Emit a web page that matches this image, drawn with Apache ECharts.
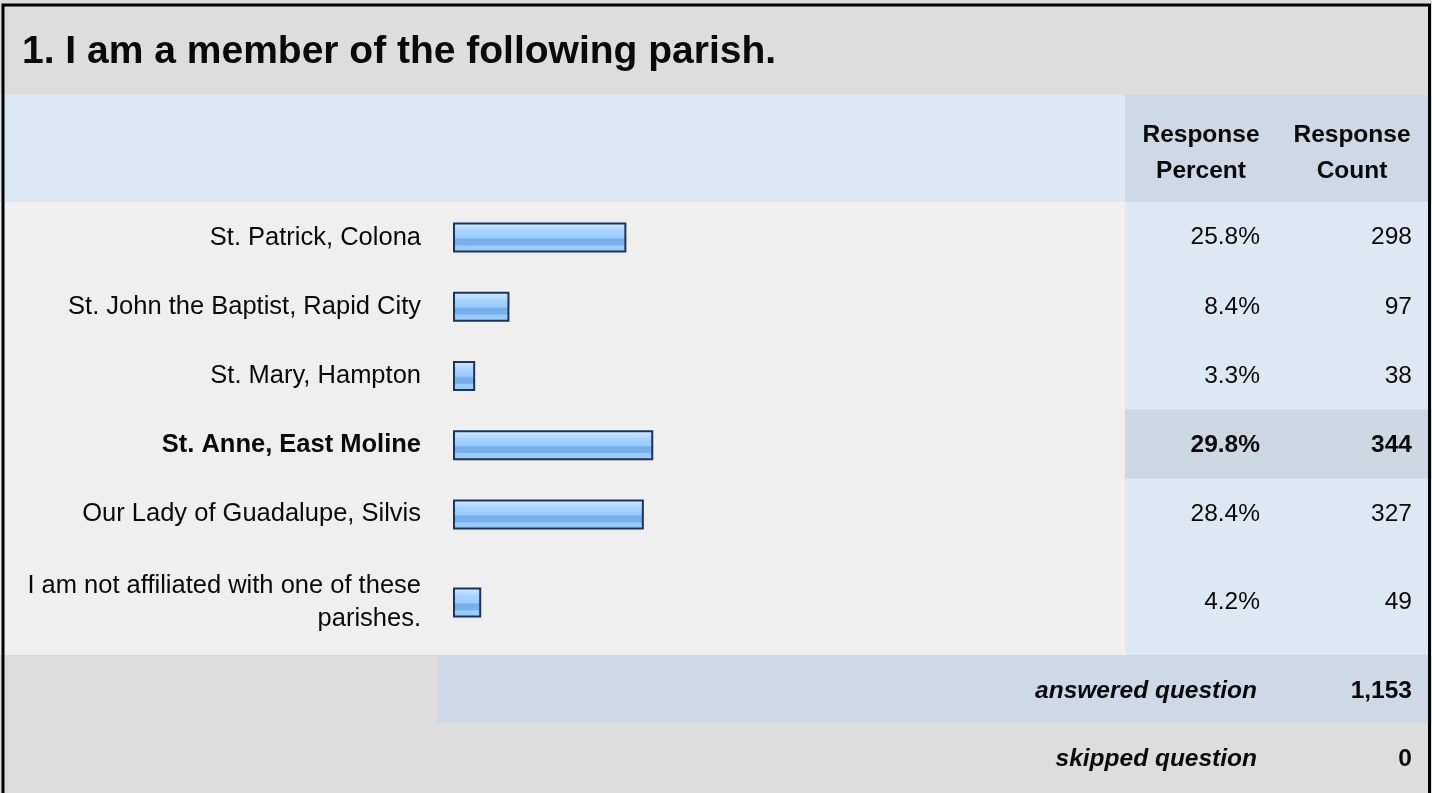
<!DOCTYPE html>
<html>
<head>
<meta charset="utf-8">
<script src="https://cdn.jsdelivr.net/npm/echarts@6/dist/echarts.min.js"></script>
<style>
html,body{margin:0;padding:0;background:#fff;}
#chart{width:1432px;height:793px;}
</style>
</head>
<body>
<div id="chart"></div>
<script>
// ---- data ----
const title = "1. I am a member of the following parish.";
const categories = [
  "St. Patrick, Colona",
  "St. John the Baptist, Rapid City",
  "St. Mary, Hampton",
  "St. Anne, East Moline",
  "Our Lady of Guadalupe, Silvis",
  "I am not affiliated with one of these parishes."
];
const percents = [25.8, 8.4, 3.3, 29.8, 28.4, 4.2];
const counts = [298, 97, 38, 344, 327, 49];
const highlightIndex = 3;
const columnHeaders = ["Response\nPercent", "Response\nCount"];
const summaryLabels = ["answered question", "skipped question"];
const summaryValues = ["1,153", "0"];

// ---- layout ----
const FONT = "'Liberation Sans', Arial, Helvetica, sans-serif";
const W = 1432, H = 793;
const FS = 24.5;
const LFS = 25.5;
const TEXT = '#0a0a0a';
const rowsTop = 202, rowH = 69.2, lastTop = 548, lastH = 107;
const dataBottom = 655, ansBottom = 723;
const colX = 1125;
const percentRight = 1260, countRight = 1412;
const barLeft = 453, barW = 672;
const labelRight = 421, labelMaxW = 410;

// simple word wrap without trailing spaces
const measureCtx = document.createElement('canvas').getContext('2d');
function wrap(text, bold) {
  measureCtx.font = (bold ? 'bold ' : '') + LFS + 'px ' + FONT;
  const words = text.split(' ');
  const lines = [];
  let cur = '';
  words.forEach(w => {
    const t = cur ? cur + ' ' + w : w;
    if (cur && measureCtx.measureText(t).width > labelMaxW) { lines.push(cur); cur = w; }
    else cur = t;
  });
  if (cur) lines.push(cur);
  return lines.join('\n');
}

const chart = echarts.init(document.getElementById('chart'), null, {renderer: 'canvas'});

const barGrad = new echarts.graphic.LinearGradient(0, 0, 0, 1, [
  {offset: 0, color: '#d9edff'},
  {offset: 0.14, color: '#c2e0fe'},
  {offset: 0.3, color: '#a6d2fd'},
  {offset: 0.5, color: '#99ccff'},
  {offset: 0.56, color: '#78afeb'},
  {offset: 0.74, color: '#78afeb'},
  {offset: 0.78, color: '#99ccff'},
  {offset: 1, color: '#99ccff'}
]);

const topCats = categories.slice(0, 5);
const lastCats = categories.slice(5);

function leftAxis(gridIndex, data, offsetIdx) {
  return {
    type: 'category', gridIndex: gridIndex, data: data, inverse: true,
    axisLine: {show: false}, axisTick: {show: false}, splitLine: {show: false},
    axisLabel: {
      margin: barLeft - labelRight, fontSize: LFS, fontFamily: FONT, color: TEXT,
      lineHeight: 33, align: 'right',
      formatter: function (v, i) {
        const hi = (i + offsetIdx) === highlightIndex;
        const s = wrap(v, hi);
        return hi ? '{b|' + s + '}' : s;
      },
      rich: {b: {fontWeight: 'bold', fontSize: LFS, fontFamily: FONT, color: TEXT, lineHeight: 33}}
    }
  };
}
function rightAxis(gridIndex, data, offsetIdx, margin, fmt) {
  return {
    type: 'category', gridIndex: gridIndex, data: data, inverse: true, position: 'right',
    axisLine: {show: false}, axisTick: {show: false}, splitLine: {show: false},
    axisLabel: {
      margin: margin, align: 'right', fontSize: FS, fontFamily: FONT, color: TEXT,
      formatter: function (v, i) {
        const s = fmt(i + offsetIdx);
        return (i + offsetIdx) === highlightIndex ? '{b|' + s + '}' : s;
      },
      rich: {b: {fontWeight: 'bold', fontSize: FS, fontFamily: FONT, color: TEXT}}
    }
  };
}
const pctFmt = i => percents[i].toFixed(1) + '%';
const cntFmt = i => String(counts[i]);
const gridRight = barLeft + barW;

const bg = [
  {type: 'rect', shape: {x: 0, y: 0, width: W, height: 95}, style: {fill: '#dddddd'}},
  {type: 'rect', shape: {x: 0, y: 95, width: colX, height: rowsTop - 95}, style: {fill: '#dce8f5'}},
  {type: 'rect', shape: {x: colX, y: 95, width: W - colX, height: rowsTop - 95}, style: {fill: '#cdd9e6'}},
  {type: 'rect', shape: {x: 0, y: rowsTop, width: colX, height: dataBottom - rowsTop}, style: {fill: '#efefef'}},
  {type: 'rect', shape: {x: colX, y: rowsTop, width: W - colX, height: dataBottom - rowsTop}, style: {fill: '#dde8f5'}},
  {type: 'rect', shape: {x: colX, y: rowsTop + rowH * highlightIndex, width: W - colX, height: rowH}, style: {fill: '#cdd8e5'}},
  {type: 'rect', shape: {x: 0, y: dataBottom, width: 437, height: ansBottom - dataBottom}, style: {fill: '#dddddd'}},
  {type: 'rect', shape: {x: 437, y: dataBottom, width: W - 437, height: ansBottom - dataBottom}, style: {fill: '#cdd9e6'}},
  {type: 'rect', shape: {x: 0, y: ansBottom, width: W, height: H - ansBottom}, style: {fill: '#dddddd'}}
].map(e => Object.assign(e, {z: -100, silent: true}));

const texts = [
  {type: 'text', x: 22, y: 52, style: {text: title, font: 'bold 39px ' + FONT, fill: TEXT, textVerticalAlign: 'middle'}},
  {type: 'text', x: 1201, y: 153, style: {text: columnHeaders[0], font: 'bold ' + FS + 'px ' + FONT, fill: TEXT, textAlign: 'center', textVerticalAlign: 'middle', lineHeight: 36}},
  {type: 'text', x: 1352, y: 153, style: {text: columnHeaders[1], font: 'bold ' + FS + 'px ' + FONT, fill: TEXT, textAlign: 'center', textVerticalAlign: 'middle', lineHeight: 36}},
  {type: 'text', x: 1257, y: 691, style: {text: summaryLabels[0], font: 'italic bold ' + FS + 'px ' + FONT, fill: TEXT, textAlign: 'right', textVerticalAlign: 'middle'}},
  {type: 'text', x: countRight, y: 691, style: {text: summaryValues[0], font: 'bold ' + FS + 'px ' + FONT, fill: TEXT, textAlign: 'right', textVerticalAlign: 'middle'}},
  {type: 'text', x: 1257, y: 759, style: {text: summaryLabels[1], font: 'italic bold ' + FS + 'px ' + FONT, fill: TEXT, textAlign: 'right', textVerticalAlign: 'middle'}},
  {type: 'text', x: countRight, y: 759, style: {text: summaryValues[1], font: 'bold ' + FS + 'px ' + FONT, fill: TEXT, textAlign: 'right', textVerticalAlign: 'middle'}},
  {type: 'rect', z: 100, shape: {x: 3, y: 5, width: 1426.5, height: 800}, style: {fill: 'none', stroke: '#000', lineWidth: 3}}
];

const barStyle = {color: barGrad, borderColor: '#1c3459', borderWidth: 2};

const option = {
  animation: false,
  backgroundColor: '#ffffff',
  graphic: {elements: bg.concat(texts)},
  grid: [
    {left: barLeft, top: rowsTop + 1, width: barW, height: rowH * 5},
    {left: barLeft, top: lastTop + 1, width: barW, height: lastH}
  ],
  xAxis: [
    {type: 'value', gridIndex: 0, min: 0, max: 100, show: false},
    {type: 'value', gridIndex: 1, min: 0, max: 100, show: false}
  ],
  yAxis: [
    leftAxis(0, topCats, 0),
    rightAxis(0, topCats, 0, percentRight - gridRight, pctFmt),
    leftAxis(1, lastCats, 5),
    rightAxis(1, lastCats, 5, percentRight - gridRight, pctFmt),
    rightAxis(0, topCats, 0, countRight - gridRight, cntFmt),
    rightAxis(1, lastCats, 5, countRight - gridRight, cntFmt)
  ],
  series: [
    {type: 'bar', xAxisIndex: 0, yAxisIndex: 0, data: percents.slice(0, 5), barWidth: 30, itemStyle: barStyle, silent: true},
    {type: 'bar', xAxisIndex: 1, yAxisIndex: 2, data: percents.slice(5), barWidth: 30, itemStyle: barStyle, silent: true}
  ]
};
chart.setOption(option);
</script>
</body>
</html>
